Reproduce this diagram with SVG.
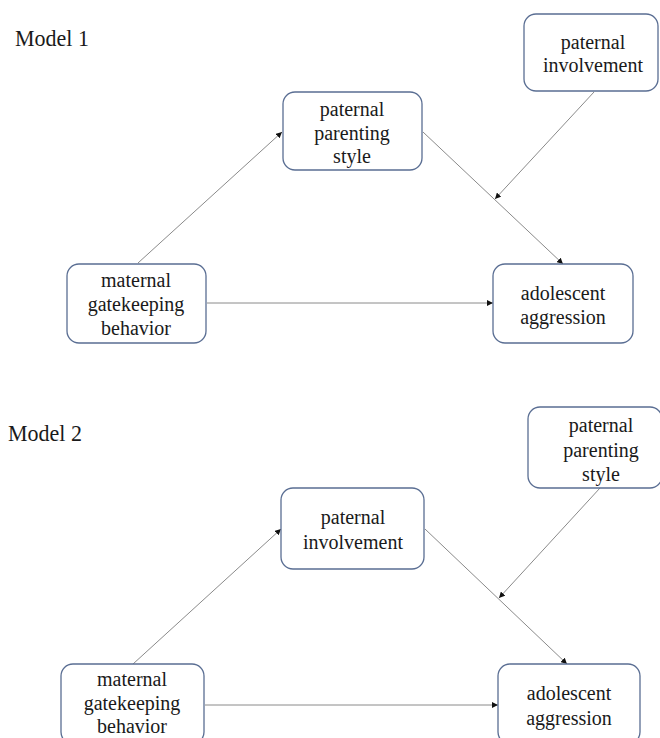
<svg xmlns="http://www.w3.org/2000/svg" width="660" height="738" viewBox="0 0 660 738">
<defs>
<style>
.box{fill:#ffffff;stroke:#5a6e93;stroke-width:1.3}
.t{font-family:"Liberation Serif","Times New Roman",serif;font-size:20px;fill:#1a1a1a;text-anchor:middle}
.title{font-family:"Liberation Serif","Times New Roman",serif;font-size:22px;fill:#1a1a1a}
.c{stroke:#8a8a8a;stroke-width:1;fill:none;marker-end:url(#ah)}
</style>
<marker id="ah" viewBox="0 0 10 10" refX="10" refY="5" markerWidth="6" markerHeight="6" markerUnits="userSpaceOnUse" orient="auto">
<path d="M0,0 L10,5 L0,10 z" fill="#111"/>
</marker>
</defs>
<rect width="660" height="738" fill="#ffffff"/>
<text class="title" transform="translate(15,46) scale(1,1.08)">Model 1</text>
<text class="title" transform="translate(8,441) scale(1,1.08)">Model 2</text>
<g id="connectors">
<line class="c" x1="138" y1="263" x2="282" y2="132"/>
<line class="c" x1="423" y1="132" x2="563" y2="264"/>
<line class="c" x1="594" y1="92" x2="495" y2="199"/>
<line class="c" x1="207" y1="303" x2="493" y2="303"/>
<line class="c" x1="133" y1="664" x2="281" y2="529"/>
<line class="c" x1="425" y1="529" x2="567" y2="664"/>
<line class="c" x1="600" y1="488" x2="499" y2="598"/>
<line class="c" x1="205" y1="705" x2="498" y2="705"/>
</g>
<g id="m1-involvement">
<rect class="box" x="524" y="14" width="134" height="77" rx="12"/>
<text class="t" x="593" y="49">paternal</text>
<text class="t" x="593" y="72">involvement</text>
</g>
<g id="m1-style">
<rect class="box" x="283" y="92" width="139" height="78" rx="12"/>
<text class="t" x="352" y="116">paternal</text>
<text class="t" x="352" y="140">parenting</text>
<text class="t" x="352" y="163">style</text>
</g>
<g id="m1-maternal">
<rect class="box" x="67" y="264" width="139" height="79" rx="12"/>
<text class="t" x="136" y="287">maternal</text>
<text class="t" x="136" y="311">gatekeeping</text>
<text class="t" x="136" y="335">behavior</text>
</g>
<g id="m1-adolescent">
<rect class="box" x="493" y="264" width="140" height="79" rx="12"/>
<text class="t" x="563" y="300">adolescent</text>
<text class="t" x="563" y="324">aggression</text>
</g>
<g id="m2-style">
<rect class="box" x="528" y="407" width="134" height="81" rx="12"/>
<text class="t" x="601" y="432">paternal</text>
<text class="t" x="601" y="457">parenting</text>
<text class="t" x="601" y="481">style</text>
</g>
<g id="m2-involvement">
<rect class="box" x="281" y="488" width="143" height="81" rx="12"/>
<text class="t" x="353" y="524">paternal</text>
<text class="t" x="353" y="549">involvement</text>
</g>
<g id="m2-maternal">
<rect class="box" x="61" y="664" width="143" height="80" rx="12"/>
<text class="t" x="132" y="686">maternal</text>
<text class="t" x="132" y="710">gatekeeping</text>
<text class="t" x="132" y="733">behavior</text>
</g>
<g id="m2-adolescent">
<rect class="box" x="498" y="664" width="142" height="80" rx="12"/>
<text class="t" x="569" y="700">adolescent</text>
<text class="t" x="569" y="725">aggression</text>
</g>
</svg>
